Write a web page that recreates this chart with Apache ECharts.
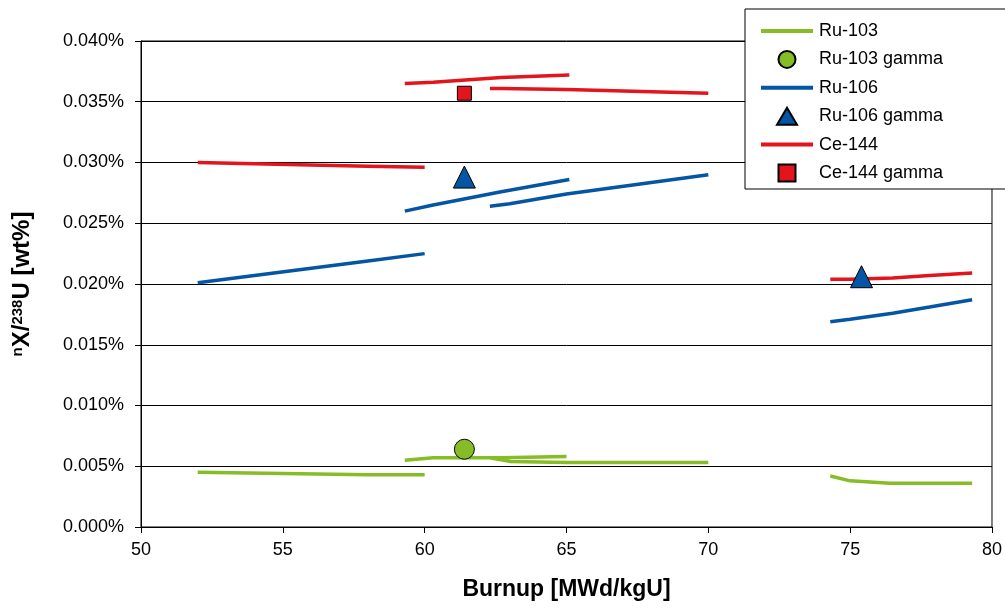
<!DOCTYPE html>
<html><head><meta charset="utf-8">
<script src="https://cdn.jsdelivr.net/npm/echarts@6/dist/echarts.min.js"></script>
<style>html,body{margin:0;padding:0;background:#fff}#c{width:1005px;height:610px}</style>
</head><body><div id="c"></div>
<script>
// x: burnup [MWd/kgU], y: wt% ; each series is several separate segments
const ru103Segments = [
  [[52,0.0045],[58,0.0043],[60,0.0043]],
  [[59.3,0.0055],[60.3,0.0057],[62.7,0.0057],[65,0.0058]],
  [[62.3,0.0057],[63,0.0054],[65,0.0053],[70,0.0053]],
  [[74.3,0.0042],[75,0.0038],[76.4,0.0036],[77.8,0.0036],[79.3,0.0036]]
];
const ru106Segments = [
  [[52,0.0201],[58,0.0219],[60,0.0225]],
  [[59.3,0.0260],[60.3,0.0265],[62.7,0.0276],[65.1,0.0286]],
  [[62.3,0.0264],[63,0.0266],[65,0.0274],[70,0.0290]],
  [[74.3,0.0169],[75,0.0171],[76.5,0.0176],[77.8,0.0181],[79.3,0.0187]]
];
const ce144Segments = [
  [[52,0.0300],[58,0.0297],[60,0.0296]],
  [[59.3,0.0365],[60.3,0.0366],[62.7,0.0370],[65.1,0.0372]],
  [[62.3,0.0361],[62.7,0.0361],[65,0.0360],[70,0.0357]],
  [[74.3,0.0204],[75,0.0204],[76.5,0.0205],[77.8,0.0207],[79.3,0.0209]]
];
const ru103Gamma = [[61.4,0.0064]];
const ru106Gamma = [[61.4,0.0288],[75.4,0.0206]];
const ce144Gamma = [[61.4,0.0357]];
const xTicks = {min:50, max:80, interval:5};
const yTicks = {min:0, max:0.04, interval:0.005};

const GREEN='#86BC25', BLUE='#0455A4', RED='#E3141B';
function joinSegs(segs){
  const out=[];
  segs.forEach((s,i)=>{ if(i) out.push(['-','-']); s.forEach(p=>out.push(p)); });
  return out;
}
const font='"Liberation Sans", Arial, sans-serif';
const chart=echarts.init(document.getElementById('c'),null,{renderer:'canvas'});
function lineSeries(name,color,segs){
  return {name,type:'line',data:joinSegs(segs),showSymbol:false,symbol:'none',connectNulls:false,
    lineStyle:{color,width:3.5},itemStyle:{color},z:2,animation:false};
}
function scat(name,color,symbol,size,data){
  return {name,type:'scatter',data,symbol,symbolSize:size,
    itemStyle:{color,borderColor:'#000',borderWidth:1,opacity:1},z:5,animation:false};
}
const LINE_ICON='path://M0,0H52V4H0Z';
chart.setOption({
  animation:false,
  grid:{left:141,right:12,top:41,bottom:83,show:true,borderColor:'#000',borderWidth:1,backgroundColor:'transparent'},
  legend:{orient:'vertical',left:745,top:9,padding:[12,90,6,16],itemWidth:52,itemHeight:17,itemGap:8.4,
    backgroundColor:'#fff',borderColor:'#000',borderWidth:1,borderRadius:0,
    textStyle:{fontFamily:font,fontSize:18,lineHeight:17,color:'#000',padding:[3,0,0,1]},
    data:[
      {name:'Ru-103',icon:LINE_ICON},
      {name:'Ru-103 gamma',icon:'circle'},
      {name:'Ru-106',icon:LINE_ICON},
      {name:'Ru-106 gamma',icon:'path://M10,0L20,17L0,17Z'},
      {name:'Ce-144',icon:LINE_ICON},
      {name:'Ce-144 gamma',icon:'path://M0,0H14V14H0Z'}
    ]},
  xAxis:{type:'value',min:xTicks.min,max:xTicks.max,interval:xTicks.interval,
    name:'Burnup [MWd/kgU]',nameLocation:'middle',nameGap:51,
    nameTextStyle:{fontFamily:font,fontSize:23,fontWeight:'bold',color:'#000'},
    axisLine:{lineStyle:{color:'#000',width:1}},axisTick:{show:true,length:6,lineStyle:{color:'#000'}},
    axisLabel:{fontFamily:font,fontSize:18,color:'#000',margin:14},splitLine:{show:false}},
  yAxis:{type:'value',min:yTicks.min,max:yTicks.max,interval:yTicks.interval,
    name:'{sup|n}X/{sup|238}U [wt%]',nameLocation:'middle',nameGap:106,nameRotate:90,
    nameTextStyle:{fontFamily:font,fontSize:24,fontWeight:'bold',color:'#000',
      rich:{sup:{fontFamily:font,fontSize:15,fontWeight:'bold',color:'#000',verticalAlign:'top',padding:[0,0,10,0]}}},
    axisLine:{show:true,lineStyle:{color:'#000',width:1}},axisTick:{show:true,length:6,lineStyle:{color:'#000'}},
    axisLabel:{fontFamily:font,fontSize:18,color:'#000',margin:17,formatter:v=>v.toFixed(3)+'%'},
    splitLine:{show:true,lineStyle:{color:'#000',width:1}}},
  series:[
    lineSeries('Ru-103',GREEN,ru103Segments),
    scat('Ru-103 gamma',GREEN,'circle',20,ru103Gamma),
    lineSeries('Ru-106',BLUE,ru106Segments),
    scat('Ru-106 gamma',BLUE,'triangle',22,ru106Gamma),
    lineSeries('Ce-144',RED,ce144Segments),
    scat('Ce-144 gamma',RED,'rect',14,ce144Gamma)
  ]
});
</script></body></html>
